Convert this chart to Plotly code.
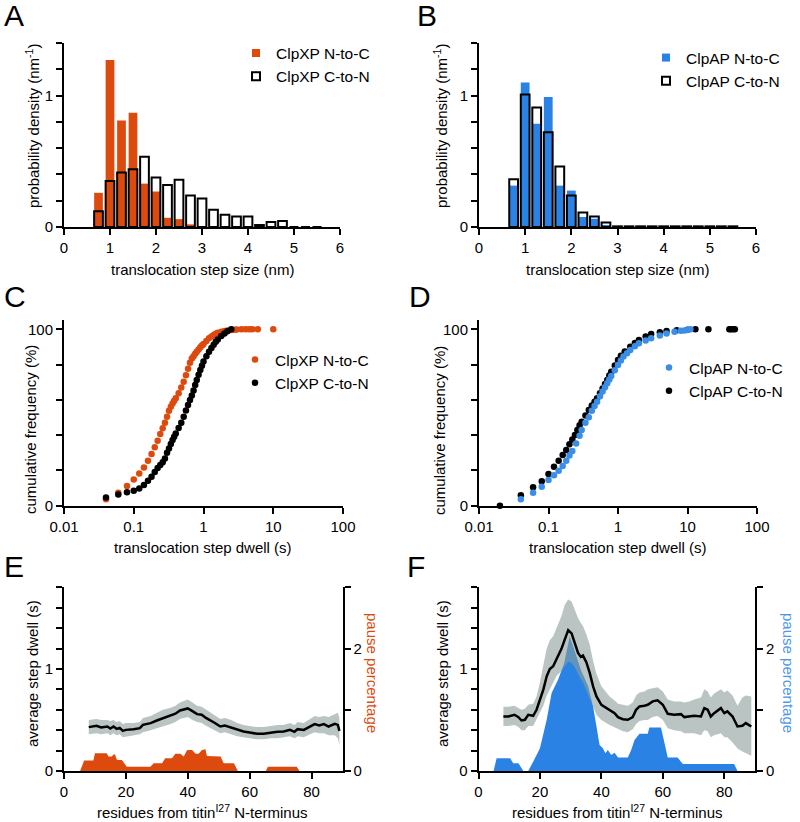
import plotly.graph_objects as go

W, H = 800, 822
FONT = "Liberation Sans, Arial, sans-serif"
ORANGE = "#DC4A0E"
BLUE = "#2A82E4"
BLUE_DOT = "#3A8EE8"
BAND = "rgba(140,158,155,0.6)"

# ---- A / B : step-size histograms (probability density, nm^-1)
bin_centers = [0.75, 1.0, 1.25, 1.5, 1.75, 2.0, 2.25, 2.5, 2.75, 3.0,
               3.25, 3.5, 3.75, 4.0, 4.25, 4.5, 4.75, 5.0, 5.25, 5.5]
clpxp_nc = [0.26, 1.27, 0.81, 0.87, 0.33, 0.27, 0.07, 0.06, 0.02, 0,
            0, 0, 0, 0, 0, 0, 0, 0.005, 0.005, 0.005]
clpxp_cn = [0.12, 0.35, 0.415, 0.44, 0.534, 0.377, 0.32, 0.36, 0.24, 0.216,
            0.132, 0.094, 0.079, 0.079, 0.015, 0.038, 0.046, 0, 0, 0]
clpap_nc = [0.315, 1.10, 0.786, 0.99, 0.315, 0.277, 0.076, 0.063, 0.015, 0,
            0, 0, 0, 0, 0, 0, 0, 0, 0, 0]
clpap_cn = [0.363, 1.008, 0.909, 0.72, 0.46, 0.24, 0.11, 0.08, 0.035, 0.005,
            0.005, 0.005, 0.005, 0.005, 0.005, 0.005, 0.005, 0.005, 0.005, 0.005]

# ---- C : ClpXP cumulative dwell distributions (%)
c_nc_x = [0.04, 0.06, 0.08, 0.10, 0.12, 0.14, 0.16, 0.18, 0.20, 0.22, 0.24, 0.26,
          0.28, 0.30, 0.32, 0.34, 0.36, 0.38, 0.40, 0.44, 0.48, 0.52, 0.56, 0.60,
          0.64, 0.68, 0.72, 0.76, 0.80, 0.85, 0.90, 0.95, 1.0, 1.1, 1.2, 1.3, 1.4,
          1.5, 1.6, 1.8, 2.0, 2.2, 2.5, 2.8, 3.0, 3.5, 4.0, 4.5, 5.0, 6.0, 10.0]
c_nc_y = [3.6, 7.4, 11.2, 14.9, 18.3, 21.7, 25.5, 29.3, 33.1, 36.9, 40.6, 43.9,
          47.1, 50.5, 53.9, 56.1, 58.0, 59.5, 60.9, 63.8, 67.0, 70.3, 73.9, 77.6,
          81.0, 83.4, 84.8, 86.2, 87.3, 88.6, 89.8, 90.8, 91.7, 93.4, 94.9, 95.9, 96.8,
          97.5, 98.1, 98.7, 99.1, 99.4, 99.6, 99.8, 99.9, 100, 100, 100, 100, 100, 100]
c_cn_x = [0.04, 0.06, 0.08, 0.10, 0.12, 0.14, 0.16, 0.18, 0.20, 0.22, 0.24, 0.26,
          0.28, 0.30, 0.32, 0.34, 0.36, 0.38, 0.40, 0.44, 0.48, 0.52, 0.56, 0.60,
          0.64, 0.68, 0.72, 0.76, 0.80, 0.85, 0.90, 0.95, 1.0, 1.1, 1.2, 1.3, 1.4,
          1.5, 1.6, 1.8, 2.0, 2.2, 2.5]
c_cn_y = [4.7, 6.4, 7.6, 8.5, 9.8, 11.7, 14.2, 16.4, 19.1, 21.4, 23.1, 24.6,
          26.8, 30.0, 32.5, 35.0, 37.2, 39.1, 41.0, 44.0, 47.1, 50.5, 54.0, 57.1,
          60.0, 62.5, 65.3, 68.5, 71.3, 74.2, 76.9, 79.3, 81.7, 84.7, 87.3, 89.4, 91.3,
          93.0, 94.3, 96.2, 97.7, 98.9, 100]

# ---- D : ClpAP cumulative dwell distributions (%)
d_nc_x = [0.04, 0.06, 0.08, 0.10, 0.12, 0.14, 0.16, 0.18, 0.20, 0.22, 0.25, 0.28,
          0.30, 0.34, 0.38, 0.42, 0.46, 0.50, 0.55, 0.60, 0.65, 0.70, 0.75, 0.80,
          0.90, 1.0, 1.1, 1.2, 1.35, 1.5, 1.75, 2.0, 2.5, 3.0, 4.0, 5.0, 6.5, 8.0,
          9.0, 10.0, 11.0]
d_nc_y = [3.6, 7.4, 10.8, 14.6, 17.2, 19.8, 22.5, 25.5, 28.5, 31.0, 35.3, 39.6,
          42.9, 47.0, 50.2, 53.8, 56.6, 59.0, 62.0, 64.7, 67.2, 69.4, 71.5, 73.5,
          76.8, 79.8, 82.4, 84.6, 86.5, 88.3, 90.4, 92.1, 93.7, 94.9, 96.5, 97.7, 98.6, 99.2,
          99.4, 99.6, 100]
d_cn_x = [0.02, 0.04, 0.06, 0.08, 0.10, 0.12, 0.14, 0.16, 0.18, 0.20, 0.22, 0.24,
          0.26, 0.28, 0.30, 0.34, 0.38, 0.42, 0.46, 0.50, 0.55, 0.60, 0.65, 0.70,
          0.75, 0.80, 0.90, 1.0, 1.1, 1.25, 1.5, 1.75, 2.0, 2.5, 3.0, 4.0, 5.0, 7.0,
          10.0, 13.0, 20.0, 40.0, 42.0, 45.0, 48.0]
d_cn_y = [0, 5.9, 10.4, 13.8, 18.0, 22.1, 25.5, 28.7, 31.6, 34.8, 37.6, 40.1,
          42.9, 45.6, 47.6, 51.2, 54.3, 56.8, 59.0, 60.9, 63.8, 66.5, 69.0, 71.3,
          73.8, 76.0, 79.5, 82.6, 85.0, 87.5, 90.2, 92.3, 94.0, 96.0, 97.4, 98.4, 99.0, 99.5,
          99.8, 100, 100, 100, 100, 100, 100]

# ---- E : ClpXP average dwell along titin I27 (s) and pause percentage
e_res = [8, 10.5, 12, 14, 15, 16, 17, 18, 19, 20, 22.5, 24.5, 25.5, 28, 30, 32,
         34.5, 36, 37.5, 40, 41.5, 43, 44.5, 46, 48.5, 50.5, 52, 54, 56, 58, 60,
         62.5, 64.5, 67, 69, 71, 73, 74.5, 75.5, 77.5, 79.5, 81, 82.5, 84, 85.5,
         87.5, 88.5, 89]
e_dwell = [0.430, 0.443, 0.426, 0.436, 0.416, 0.436, 0.413, 0.423, 0.393, 0.403,
           0.410, 0.420, 0.452, 0.469, 0.495, 0.518, 0.541, 0.561, 0.593, 0.613,
           0.587, 0.557, 0.551, 0.518, 0.475, 0.436, 0.446, 0.426, 0.403, 0.387,
           0.377, 0.364, 0.364, 0.377, 0.384, 0.387, 0.403, 0.384, 0.410, 0.403,
           0.436, 0.459, 0.446, 0.459, 0.436, 0.462, 0.452, 0.393]
e_upper = [0.50, 0.51, 0.50, 0.50, 0.49, 0.50, 0.48, 0.49, 0.46, 0.47, 0.47, 0.48,
           0.52, 0.54, 0.57, 0.60, 0.62, 0.64, 0.67, 0.70, 0.67, 0.64, 0.63, 0.60,
           0.55, 0.51, 0.52, 0.50, 0.47, 0.45, 0.44, 0.43, 0.43, 0.44, 0.45, 0.45,
           0.47, 0.45, 0.48, 0.47, 0.51, 0.54, 0.53, 0.54, 0.53, 0.56, 0.57, 0.52]
e_lower = [0.36, 0.37, 0.36, 0.37, 0.35, 0.37, 0.35, 0.36, 0.33, 0.34, 0.35, 0.36,
           0.38, 0.40, 0.42, 0.44, 0.46, 0.48, 0.51, 0.53, 0.50, 0.48, 0.47, 0.44,
           0.40, 0.37, 0.38, 0.36, 0.34, 0.33, 0.32, 0.31, 0.31, 0.32, 0.32, 0.33,
           0.34, 0.32, 0.34, 0.33, 0.36, 0.38, 0.37, 0.37, 0.35, 0.35, 0.32, 0.25]
e_pause_res = [0, 5.2, 6.5, 9.5, 10.0, 13.8, 14.4, 15.5, 16.0, 16.5, 17.1, 18.7,
               20.3, 27.9, 29.0, 31.7, 32.7, 34.9, 36.0, 37.6, 38.7, 39.8, 41.4,
               42.5, 43.5, 44.6, 45.7, 46.2, 50.6, 51.6, 54.9, 56.2, 65.2, 65.9,
               75.2, 76.1, 90]
e_pause = [0, 0, 0.17, 0.17, 0.29, 0.29, 0.235, 0.235, 0.27, 0.27, 0.18, 0.18,
           0.07, 0.07, 0.126, 0.126, 0.21, 0.21, 0.28, 0.28, 0.235, 0.344, 0.344,
           0.28, 0.28, 0.344, 0.355, 0.246, 0.235, 0.126, 0.126, 0, 0, 0.07,
           0.07, 0, 0]

# ---- F : ClpAP average dwell along titin I27 (s) and pause percentage
f_res = [8.1, 9.7, 11.7, 13.0, 14.0, 15.1, 16.2, 17.8, 18.9, 20.0, 21.1, 22.2,
         23.2, 24.3, 25.4, 27.0, 28.1, 29.2, 30.3, 31.3, 32.4, 33.3, 34.0, 35.1,
         36.2, 37.3, 38.4, 40.0, 41.6, 42.7, 44.3, 45.4, 47.0, 48.6, 50.2, 51.3,
         52.4, 54.0, 55.1, 56.7, 58.3, 60.0, 61.6, 63.7, 65.9, 67.0, 68.6, 70.2,
         72.4, 73.5, 74.6, 75.6, 76.7, 78.9, 80.0, 81.0, 82.7, 84.3, 85.9, 87.0, 88.8]
f_dwell = [0.534, 0.534, 0.551, 0.528, 0.495, 0.502, 0.551, 0.541, 0.600, 0.698,
           0.797, 0.928, 1.000, 1.026, 1.098, 1.197, 1.289, 1.380, 1.348, 1.256,
           1.157, 1.118, 1.131, 1.066, 0.961, 0.830, 0.731, 0.649, 0.616, 0.593,
           0.567, 0.528, 0.508, 0.502, 0.528, 0.600, 0.633, 0.639, 0.649, 0.682,
           0.692, 0.649, 0.561, 0.551, 0.557, 0.528, 0.534, 0.541, 0.534, 0.616,
           0.600, 0.534, 0.567, 0.616, 0.567, 0.584, 0.534, 0.436, 0.443, 0.469, 0.436]
f_upper = [0.63, 0.63, 0.64, 0.62, 0.60, 0.61, 0.65, 0.66, 0.73, 0.87, 1.02, 1.20,
           1.28, 1.32, 1.40, 1.52, 1.63, 1.68, 1.66, 1.58, 1.50, 1.45, 1.42, 1.34,
           1.24, 1.08, 0.95, 0.83, 0.77, 0.73, 0.69, 0.66, 0.65, 0.64, 0.67, 0.74,
           0.77, 0.78, 0.80, 0.81, 0.82, 0.78, 0.70, 0.68, 0.68, 0.67, 0.68, 0.70,
           0.72, 0.80, 0.78, 0.72, 0.76, 0.80, 0.77, 0.79, 0.74, 0.64, 0.72, 0.74, 0.73]
f_lower = [0.44, 0.44, 0.45, 0.43, 0.40, 0.40, 0.44, 0.44, 0.50, 0.57, 0.64, 0.74,
           0.80, 0.86, 0.93, 0.98, 1.03, 1.07, 1.06, 1.02, 0.95, 0.90, 0.87, 0.80,
           0.72, 0.63, 0.55, 0.50, 0.47, 0.45, 0.43, 0.41, 0.39, 0.38, 0.41, 0.46,
           0.49, 0.50, 0.50, 0.53, 0.54, 0.50, 0.42, 0.40, 0.39, 0.37, 0.37, 0.37,
           0.35, 0.40, 0.39, 0.33, 0.35, 0.37, 0.33, 0.33, 0.28, 0.22, 0.19, 0.17, 0.15]
f_pause_res = [0, 4.9, 5.9, 10.3, 11.3, 13.0, 14.6, 16.2, 17.8, 20.0, 22.2, 23.8,
               25.9, 27.9, 29.7, 31.3, 33.5, 35.7, 37.3, 38.4, 39.4, 40.5, 41.3,
               42.1, 43.2, 44.3, 45.4, 48.6, 49.7, 50.8, 52.4, 55.1, 55.6, 59.4,
               60.5, 61.6, 64.8, 66.5, 83.2, 84.3, 90]
f_pause = [0, 0, 0.208, 0.208, 0.126, 0.126, 0, 0, 0.153, 0.372, 0.836, 1.273,
           1.492, 1.765, 2.2, 1.956, 1.628, 1.383, 1.055, 0.727, 0.426, 0.372, 0.29,
           0.344, 0.262, 0.3, 0.219, 0.219, 0.344, 0.508, 0.607, 0.607, 0.71, 0.71,
           0.454, 0.219, 0.219, 0.115, 0.115, 0, 0]

res_ticks = [0, 20, 40, 60, 80]


def px_x(a, b):
    return [a / W, b / W]


def px_y(top, bottom):
    return [1 - bottom / H, 1 - top / H]


def minor_ticks(vals):
    return dict(tickmode="array", tickvals=vals, ticks="outside", ticklen=6,
                tickwidth=2, tickcolor="black", showgrid=False)


def axis_style(**kw):
    d = dict(showline=True, linecolor="black", linewidth=2, ticks="outside",
             ticklen=6, tickwidth=2, tickcolor="black", showgrid=False,
             zeroline=False, automargin=False,
             tickfont=dict(size=15, color="black", family=FONT))
    d.update(kw)
    return d


fig = go.Figure()

# A
fig.add_trace(go.Bar(x=bin_centers, y=clpxp_nc, width=0.19, marker=dict(color=ORANGE, line=dict(width=0)),
                     xaxis="x", yaxis="y", showlegend=False))
fig.add_trace(go.Bar(x=bin_centers, y=clpxp_cn, width=0.19,
                     marker=dict(color="rgba(0,0,0,0)", line=dict(color="black", width=2)),
                     xaxis="x", yaxis="y", showlegend=False))
fig.add_trace(go.Scatter(x=[None], y=[None], mode="markers", name="ClpXP N-to-C",
                         marker=dict(symbol="square", size=8, color=ORANGE),
                         xaxis="x", yaxis="y", legend="legend"))
fig.add_trace(go.Scatter(x=[None], y=[None], mode="markers", name="ClpXP C-to-N",
                         marker=dict(symbol="square-open", size=8, color="black", line=dict(width=2)),
                         xaxis="x", yaxis="y", legend="legend"))

# B
fig.add_trace(go.Bar(x=bin_centers, y=clpap_nc, width=0.19, marker=dict(color=BLUE, line=dict(width=0)),
                     xaxis="x2", yaxis="y2", showlegend=False))
fig.add_trace(go.Bar(x=bin_centers, y=clpap_cn, width=0.19,
                     marker=dict(color="rgba(0,0,0,0)", line=dict(color="black", width=2)),
                     xaxis="x2", yaxis="y2", showlegend=False))
fig.add_trace(go.Scatter(x=[None], y=[None], mode="markers", name="ClpAP N-to-C",
                         marker=dict(symbol="square", size=8, color=BLUE),
                         xaxis="x2", yaxis="y2", legend="legend2"))
fig.add_trace(go.Scatter(x=[None], y=[None], mode="markers", name="ClpAP C-to-N",
                         marker=dict(symbol="square-open", size=8, color="black", line=dict(width=2)),
                         xaxis="x2", yaxis="y2", legend="legend2"))

# C
fig.add_trace(go.Scatter(x=c_nc_x, y=c_nc_y, mode="markers", name="ClpXP N-to-C",
                         marker=dict(size=6.5, color=ORANGE), cliponaxis=False,
                         xaxis="x3", yaxis="y3", legend="legend3"))
fig.add_trace(go.Scatter(x=c_cn_x, y=c_cn_y, mode="markers", name="ClpXP C-to-N",
                         marker=dict(size=6.5, color="black"), cliponaxis=False,
                         xaxis="x3", yaxis="y3", legend="legend3"))

# D
fig.add_trace(go.Scatter(x=d_cn_x, y=d_cn_y, mode="markers", name="ClpAP C-to-N",
                         marker=dict(size=6.5, color="black"), cliponaxis=False, legendrank=2,
                         xaxis="x4", yaxis="y4", legend="legend4"))
fig.add_trace(go.Scatter(x=d_nc_x, y=d_nc_y, mode="markers", name="ClpAP N-to-C",
                         marker=dict(size=6.5, color=BLUE_DOT), cliponaxis=False, legendrank=1,
                         xaxis="x4", yaxis="y4", legend="legend4"))

# E (pause on base right axis, dwell on overlaying left axis so it is drawn on top)
fig.add_trace(go.Scatter(x=e_pause_res, y=e_pause, mode="lines", fill="tozeroy",
                         line=dict(width=0, color=ORANGE), fillcolor=ORANGE,
                         xaxis="x5", yaxis="y5", showlegend=False))
fig.add_trace(go.Scatter(x=e_res + e_res[::-1], y=e_upper + e_lower[::-1], fill="toself",
                         mode="lines", line=dict(width=0), fillcolor=BAND,
                         xaxis="x5", yaxis="y6", showlegend=False))
fig.add_trace(go.Scatter(x=e_res, y=e_dwell, mode="lines", line=dict(color="black", width=2.5),
                         xaxis="x5", yaxis="y6", showlegend=False))

# F
fig.add_trace(go.Scatter(x=f_pause_res, y=f_pause, mode="lines", fill="tozeroy",
                         line=dict(width=0, color=BLUE), fillcolor=BLUE,
                         xaxis="x6", yaxis="y7", showlegend=False))
fig.add_trace(go.Scatter(x=f_res + f_res[::-1], y=f_upper + f_lower[::-1], fill="toself",
                         mode="lines", line=dict(width=0), fillcolor=BAND,
                         xaxis="x6", yaxis="y8", showlegend=False))
fig.add_trace(go.Scatter(x=f_res, y=f_dwell, mode="lines", line=dict(color="black", width=2.5),
                         xaxis="x6", yaxis="y8", showlegend=False))

hist_y = dict(range=[0, 1.4], tickvals=[0, 1], minor=minor_ticks([0.2, 0.4, 0.6, 0.8, 1.2, 1.4]))
hist_x = dict(range=[0, 6], tickvals=[0, 1, 2, 3, 4, 5, 6])
cum_x = dict(type="log", range=[-2, 2], tickvals=[0.01, 0.1, 1, 10, 100],
             ticktext=["0.01", "0.1", "1", "10", "100"])
cum_y = dict(range=[0, 105.3], tickvals=[0, 100], minor=minor_ticks([20, 40, 60, 80]))
res_x = dict(range=[0, 90], tickvals=res_ticks)
dwell_y = dict(range=[0, 1.8], tickvals=[0, 1], side="left",
               minor=minor_ticks([0.2, 0.4, 0.6, 0.8, 1.2, 1.4, 1.6, 1.8]))
pause_y = dict(range=[0, 3], tickvals=[0, 2], side="right", minor=minor_ticks([1, 3]))

row1 = px_y(43, 227)
row2 = px_y(320, 505.7)
row3 = px_y(587.3, 771)
left = px_x(64, 340)
right = px_x(479, 756)

legend_style = dict(xanchor="left", yanchor="top", bgcolor="rgba(0,0,0,0)", borderwidth=0,
                    font=dict(size=15.5, color="black", family=FONT), tracegroupgap=0)

fig.update_layout(
    width=W, height=H, margin=dict(l=0, r=0, t=0, b=0, autoexpand=False),
    paper_bgcolor="white", plot_bgcolor="white",
    font=dict(family=FONT, color="black", size=15),
    barmode="overlay",
    xaxis=axis_style(domain=left, anchor="y", **hist_x),
    yaxis=axis_style(domain=row1, anchor="x", **hist_y),
    xaxis2=axis_style(domain=right, anchor="y2", **hist_x),
    yaxis2=axis_style(domain=row1, anchor="x2", **hist_y),
    xaxis3=axis_style(domain=px_x(64, 343), anchor="y3", **cum_x),
    yaxis3=axis_style(domain=row2, anchor="x3", **cum_y),
    xaxis4=axis_style(domain=px_x(479, 757), anchor="y4", **cum_x),
    yaxis4=axis_style(domain=row2, anchor="x4", **cum_y),
    xaxis5=axis_style(domain=px_x(64, 342.5), anchor="y5", **res_x),
    yaxis5=axis_style(domain=row3, anchor="x5", **pause_y),
    yaxis6=axis_style(anchor="x5", overlaying="y5", **dwell_y),
    xaxis6=axis_style(domain=px_x(478.5, 755), anchor="y7", **res_x),
    yaxis7=axis_style(domain=row3, anchor="x6", **pause_y),
    yaxis8=axis_style(anchor="x6", overlaying="y7", **dwell_y),
    legend=dict(x=236 / W, y=1 - 36.5 / H, **legend_style),
    legend2=dict(x=646 / W, y=1 - 41 / H, **legend_style),
    legend3=dict(x=235 / W, y=1 - 343 / H, **legend_style),
    legend4=dict(x=649 / W, y=1 - 351 / H, **legend_style),
)

annotations = []


def add_text(text, x, y, size=15, angle=0, color="black", xanchor="center"):
    annotations.append(dict(text=text, x=x / W, y=1 - y / H, xref="paper", yref="paper",
                            showarrow=False, textangle=angle, xanchor=xanchor, yanchor="middle",
                            font=dict(size=size, color=color, family=FONT)))


for letter, x, y in [("A", 2, 16), ("B", 415, 16), ("C", 2, 296),
                     ("D", 407, 296), ("E", 2, 566), ("F", 405, 566)]:
    add_text(letter, x, y, size=30, xanchor="left")

add_text("translocation step size (nm)", 202, 270)
add_text("translocation step size (nm)", 617, 270)
add_text("translocation step dwell (s)", 203, 547)
add_text("translocation step dwell (s)", 618, 547)
add_text("residues from titin<sup>I27</sup> N-terminus", 203, 811)
add_text("residues from titin<sup>I27</sup> N-terminus", 617, 811)

add_text("probability density (nm<sup>-1</sup>)", 32, 126, angle=-90)
add_text("probability density (nm<sup>-1</sup>)", 440, 126, angle=-90)
add_text("cumulative frequency (%)", 30, 430, angle=-90)
add_text("cumulative frequency (%)", 439, 430, angle=-90)
add_text("average step dwell (s)", 32, 674, angle=-90)
add_text("average step dwell (s)", 442, 674, angle=-90)
add_text("pause percentage", 373, 673, angle=90, color=ORANGE)
add_text("pause percentage", 789, 673, angle=90, color="#4C97E8")

fig.update_layout(annotations=annotations)

# drop the browser's default 8px body margin so the figure sits at the page origin
fig.write_html("out.html", config={"displayModeBar": False},
               post_script="document.body.style.margin = '0px';")
